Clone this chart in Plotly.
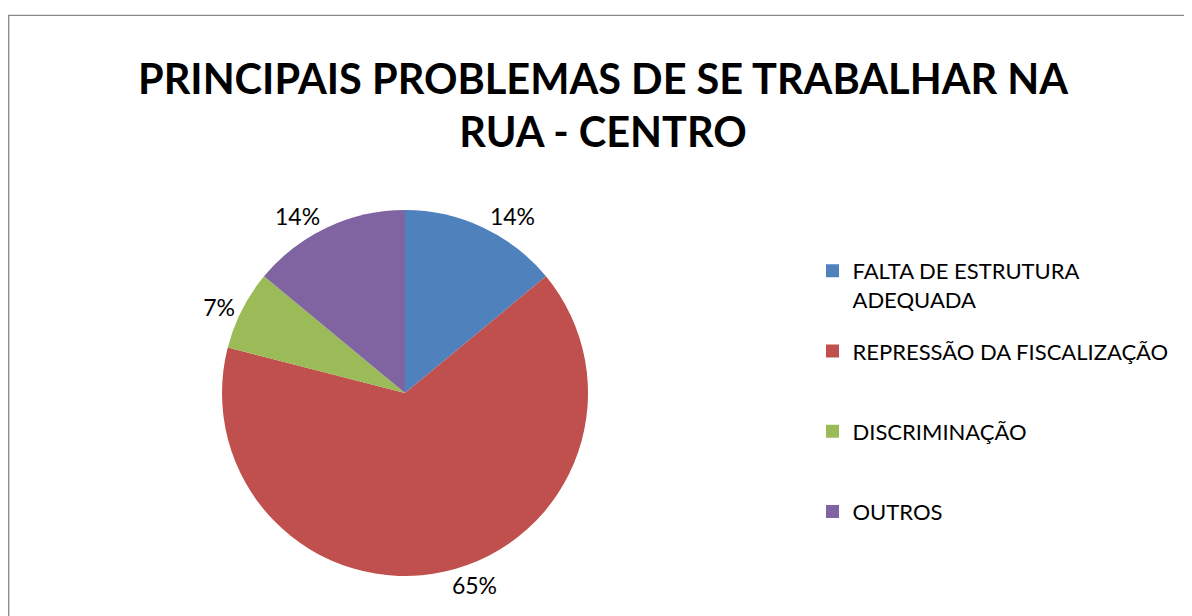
import plotly.graph_objects as go

categories = ["FALTA DE ESTRUTURA<br>ADEQUADA",
              "REPRESSÃO DA FISCALIZAÇÃO<br> ",
              "DISCRIMINAÇÃO<br> ",
              "OUTROS"]
values = [14, 65, 7, 14]
colors = ["#4F81BD", "#C0504D", "#9BBB59", "#8064A2"]
title_text = "PRINCIPAIS PROBLEMAS DE SE TRABALHAR NA<br>RUA - CENTRO"

W, H = 1192, 616
FONT = "Lato, Carlito, Calibri, sans-serif"

# pie geometry in page pixels (the page body adds an 8px offset)
OFF = 8
CX, CY, R = 405 - OFF, 393 - OFF, 183

fig = go.Figure()
fig.add_trace(go.Pie(
    labels=[c.replace("<br> ", "") for c in categories],
    values=values,
    sort=False,
    direction="clockwise",
    rotation=0,
    marker=dict(colors=colors, line=dict(width=0)),
    texttemplate="%{value}%",
    textposition="outside",
    textfont=dict(family=FONT, size=23, color="#000000"),
    domain=dict(x=[(CX - R) / W, (CX + R) / W],
                y=[1 - (CY + R) / H, 1 - (CY - R) / H]),
    hoverinfo="label+percent",
    showlegend=False,
))

# legend entries (one group each so they can be spaced like the original)
for i, (cat, col) in enumerate(zip(categories, colors)):
    fig.add_trace(go.Scatter(
        x=[None], y=[None], mode="markers",
        marker=dict(symbol="square", size=13, color=col),
        name=cat, legendgroup=f"g{i}", showlegend=True,
        hoverinfo="skip",
    ))

fig.update_layout(
    width=W, height=H,
    margin=dict(l=0, r=0, t=0, b=0),
    paper_bgcolor="white",
    plot_bgcolor="white",
    xaxis=dict(visible=False),
    yaxis=dict(visible=False),
    title=dict(
        text=title_text,
        x=(603 - OFF) / W, xanchor="center",
        y=1 - 85.5 / H, yanchor="middle",
        yref="container",
        font=dict(family=FONT, size=41.5, color="#000000", weight="bold"),
    ),
    legend=dict(
        x=(812.5 - OFF) / W, xanchor="left",
        y=1 - (250 - OFF) / H, yanchor="top",
        valign="top",
        tracegroupgap=20,
        traceorder="grouped",
        font=dict(family=FONT, size=22, color="#000000"),
        bgcolor="rgba(0,0,0,0)",
    ),
    showlegend=True,
    shapes=[dict(
        type="rect", xref="paper", yref="paper",
        x0=0.7 / W, x1=1.05, y0=-0.05, y1=1 - 7.3 / H,
        line=dict(color="#868686", width=1.3),
        fillcolor="rgba(0,0,0,0)", layer="below",
    )],
)

fig.write_html("out.html")
